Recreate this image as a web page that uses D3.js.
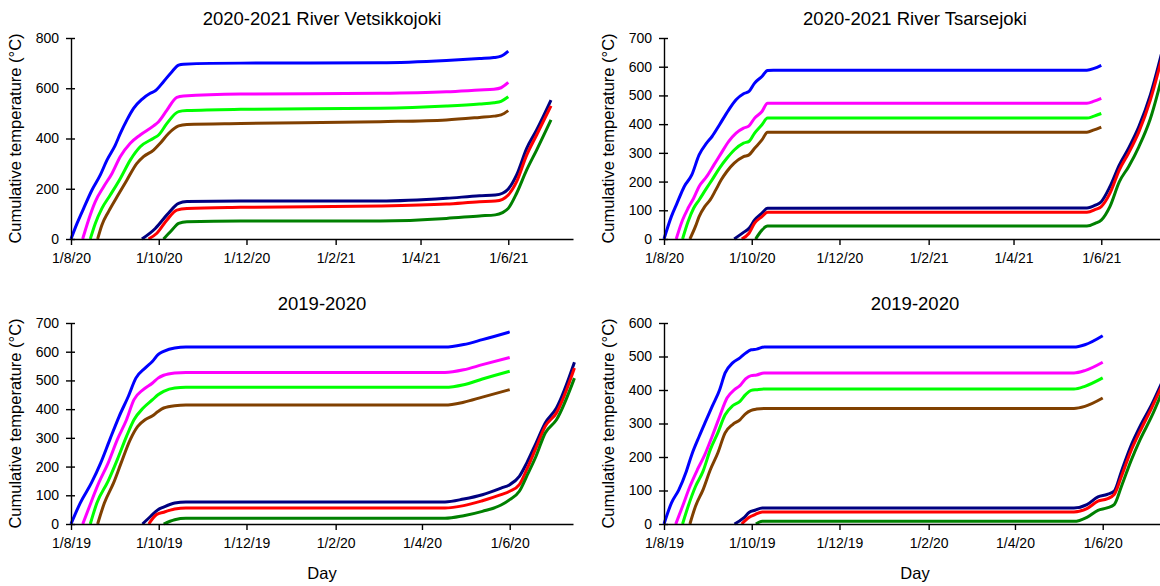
<!DOCTYPE html>
<html>
<head>
<meta charset="utf-8">
<script src="https://cdn.jsdelivr.net/npm/d3@7"></script>
<style>
  body { margin: 0; background: #fff; }
  svg { display: block; font-family: "Liberation Sans", Arial, sans-serif; }
  .axis path, .axis line { stroke: #000; stroke-width: 1.4; }
  .axis text { font-size: 14px; fill: #000; font-family: "Liberation Sans", Arial, sans-serif; }
  .line { fill: none; stroke-width: 3; stroke-linejoin: round; }
</style>
</head>
<body>
<div id="chart"></div>
<script>
// [day since 1 August, cumulative temperature]
var v21Blue = [[0,0],[4.2,62],[8.8,122],[14.6,195],[20.4,255],[25,314],[30.8,374],[34.3,420],[38.9,474],[43.5,520],[49.3,556],[55.1,580],[58.6,590],[64.3,626],[70.2,666],[74.8,692],[78.2,696],[118,700],[215,701],[261,710],[284,718],[294,722],[299,728],[304,748]];
var v21Magenta = [[8.1,0],[12.2,76],[16.9,149],[22.7,208],[28.5,261],[34.3,328],[41.2,381],[48.1,414],[57.4,450],[60.9,467],[66.7,513],[73.6,564],[78.2,569],[118,577],[215,580],[261,586],[284,593],[294,596],[299,602],[304,623]];
var v21Green = [[13.4,0],[16.9,62],[21.5,122],[27.3,175],[34.3,241],[41.2,314],[48.1,367],[57.4,401],[60.9,414],[66.7,460],[74.8,507],[80.6,511],[118,516],[215,520],[261,529],[284,537],[294,542],[299,548],[304,566]];
var v21Brown = [[18.5,0],[21.5,56],[26.1,109],[32,168],[38.9,235],[45.8,301],[50.4,328],[57.4,354],[62,381],[67.8,420],[74.8,450],[80.6,456],[118,460],[215,467],[261,474],[284,484],[294,489],[299,494],[304,511]];
var v21Navy = [[49.3,0],[58.6,42],[66.7,96],[74.8,142],[80.6,149],[118,151],[215,151],[261,162],[284,172],[295,175],[300,182],[304,199],[309.8,255],[316.8,361],[323.7,434],[333.7,553]];
var v21Red = [[53.9,0],[59.7,23],[66.7,76],[73.6,115],[80.6,121],[118,126],[215,131],[261,139],[284,148],[295,151],[300,158],[304,175],[309.8,228],[316.8,334],[323.7,414],[333.7,530]];
var v21DkGreen = [[64.3,0],[70.2,36],[74.8,62],[80.6,69],[118,72],[215,72],[261,82],[284,92],[295,96],[300,105],[304,122],[309.8,182],[316.8,275],[323.7,354],[333.7,474]];

var t21Blue = [[0,0],[5.1,78],[9,124],[14.1,183],[19.3,223],[24.4,293],[29.6,334],[33.4,357],[38.6,398],[45,450],[50.1,485],[55.3,506],[59.1,514],[63,543],[68.1,566],[72,587],[76,588],[294,588],[299,594],[304,605]];
var t21Magenta = [[8.5,0],[12.9,66],[16.7,107],[20.6,142],[24.4,183],[29.6,217],[34.7,258],[39.8,299],[45,340],[50.1,369],[55.3,386],[59.1,394],[63,421],[68.1,444],[72,473],[294,473],[299,480],[304,490]];
var t21Green = [[12.9,0],[16.7,60],[20.6,107],[24.4,136],[29.6,177],[33.4,206],[38.6,247],[43.7,281],[48.8,310],[55.3,334],[59.1,340],[63,369],[68.1,398],[72,421],[294,421],[299,428],[304,437]];
var t21Brown = [[18,0],[21.8,43],[24.4,78],[28.3,113],[32.1,136],[36,171],[39.8,206],[43.7,235],[48.8,264],[55.3,287],[59.1,293],[63,316],[68.1,345],[72,372],[294,372],[299,380],[304,390]];
var t21Navy = [[48.8,0],[55.3,23],[59.1,37],[63,66],[68.1,90],[72,107],[294,108],[300,118],[304,130],[310,182],[316.6,258],[323,316],[330.2,392],[338,500],[346,648]];
var t21Red = [[54,0],[59.1,20],[63,55],[68.1,78],[72,93],[294,93],[300,103],[304,113],[310,159],[316.6,241],[323,299],[330.2,374],[338,482],[346,628]];
var t21DkGreen = [[63.7,0],[68.1,31],[72,45],[294,45],[300,55],[304,66],[310,113],[316.6,200],[323,252],[330.2,322],[338,417],[346,560]];

var v20Blue = [[0,0],[6.4,73],[14.2,143],[20.6,212],[27,294],[33.5,375],[39.9,445],[45.1,508],[51.5,543],[56.7,567],[60.5,590],[64.4,601],[72.1,613],[79.9,616],[260,616],[273,625],[286,642],[305,669]];
var v20Magenta = [[8.2,0],[12.9,62],[19.3,143],[25.8,212],[32.2,294],[38.6,363],[43.8,433],[50.2,468],[56.7,491],[60.5,508],[64.4,518],[72.1,526],[79.9,528],[260,528],[273,537],[286,555],[305,580]];
var v20Green = [[13.4,0],[18,73],[25.8,149],[32.2,224],[38.6,305],[43.8,363],[50.2,404],[56.7,433],[60.5,450],[64.4,462],[72.1,474],[79.9,476],[260,476],[273,485],[286,505],[305,532]];
var v20Brown = [[18.5,0],[23.2,73],[29.6,143],[34.8,212],[41.2,294],[46.4,340],[51.5,363],[56.7,377],[60.5,392],[64.4,404],[72.1,412],[79.9,414],[260,414],[273,424],[286,442],[305,468]];
var v20Navy = [[49.7,0],[55.4,27],[60.5,50],[64.4,59],[72.1,73],[79.9,77],[260,77],[273,87],[286,102],[299,125],[305,137],[311.7,166],[316.8,212],[323.3,282],[329.7,352],[337.5,404],[350,563]];
var v20Red = [[54.1,0],[59.3,32],[64.4,41],[72.1,52],[79.9,56],[260,56],[273,64],[286,81],[299,102],[305,114],[311.7,137],[316.8,189],[323.3,265],[329.7,340],[337.5,387],[350,543]];
var v20DkGreen = [[64.4,0],[72.1,15],[79.9,20],[260,20],[273,29],[286,44],[299,66],[305,85],[311.7,114],[316.8,166],[323.3,236],[329.7,317],[337.5,363],[350,508]];

var t20Blue = [[0,0],[5.2,63],[10.3,102],[15.5,157],[19.3,207],[24.5,262],[28.4,301],[33.5,351],[38.7,401],[42.5,451],[47.7,481],[52.8,496],[56.7,510],[60.6,520],[64.4,522],[69.6,528],[285,528],[292.6,535],[305,562]];
var t20Magenta = [[8.2,0],[12.9,53],[18,112],[23.2,162],[28.4,207],[33.5,262],[38.7,321],[43.8,376],[49,401],[52.8,413],[56.7,433],[60.6,443],[64.4,445],[69.6,451],[285,451],[292.6,458],[305,483]];
var t20Green = [[12.9,0],[16.8,53],[21.9,112],[27.1,157],[32.2,222],[37.4,272],[42.5,326],[47.7,353],[52.8,366],[56.7,386],[60.6,399],[64.4,401],[69.6,403],[285,403],[292.6,411],[305,436]];
var t20Brown = [[18,0],[21.9,53],[27.1,102],[32.2,162],[37.4,212],[42.5,272],[47.7,297],[52.8,311],[56.7,329],[60.6,339],[64.4,343],[69.6,345],[285,345],[292.6,351],[305,376]];
var t20Navy = [[49,0],[55.4,18],[59.3,35],[63.2,41],[68.3,48],[285,48],[294,58],[301.7,81],[308,88],[313,98],[318,157],[324.5,232],[331,292],[339,356],[346,421]];
var t20Red = [[54,0],[59.3,20],[63.2,28],[68.3,36],[285,36],[294,46],[301.7,68],[308,75],[313,88],[318,142],[324.5,217],[331,277],[339,346],[346,411]];
var t20DkGreen = [[63.9,0],[68.3,8],[285,8],[294,20],[301.7,41],[308,48],[313,58],[318,112],[324.5,187],[331,252],[339,321],[346,391]];

var seriesColors = ['#0000ff', '#ff00ff', '#00ff00', '#804000', '#000080', '#ff0000', '#008000'];

var panelTitles = ['2020-2021 River Vetsikkojoki', '2020-2021 River Tsarsejoki', '2019-2020', '2019-2020'];
var tickDates2021 = ['2020-08-01', '2020-10-01', '2020-12-01', '2021-02-01', '2021-04-01', '2021-06-01'];
var tickLabels2021 = ['1/8/20', '1/10/20', '1/12/20', '1/2/21', '1/4/21', '1/6/21'];
var tickDates1920 = ['2019-08-01', '2019-10-01', '2019-12-01', '2020-02-01', '2020-04-01', '2020-06-01'];
var tickLabels1920 = ['1/8/19', '1/10/19', '1/12/19', '1/2/20', '1/4/20', '1/6/20'];
var yTicks800 = [0, 200, 400, 600, 800];
var yTicks700 = [0, 100, 200, 300, 400, 500, 600, 700];
var yTicks600 = [0, 100, 200, 300, 400, 500, 600];

var yLabel = 'Cumulative temperature (°C)';
var xLabel = 'Day';

var parseDate = d3.timeParse('%Y-%m-%d');
var AXIS_DAYS = 349;
var W = 502, H = 201;

var panels = [
  {title: panelTitles[0], start: tickDates2021[0], tickDates: tickDates2021, tickLabels: tickLabels2021,
   yTicks: yTicks800, series: [v21Blue, v21Magenta, v21Green, v21Brown, v21Navy, v21Red, v21DkGreen],
   left: 71, top: 38, showX: false},
  {title: panelTitles[1], start: tickDates2021[0], tickDates: tickDates2021, tickLabels: tickLabels2021,
   yTicks: yTicks700, series: [t21Blue, t21Magenta, t21Green, t21Brown, t21Navy, t21Red, t21DkGreen],
   left: 664, top: 38, showX: false},
  {title: panelTitles[2], start: tickDates1920[0], tickDates: tickDates1920, tickLabels: tickLabels1920,
   yTicks: yTicks700, series: [v20Blue, v20Magenta, v20Green, v20Brown, v20Navy, v20Red, v20DkGreen],
   left: 71, top: 323, showX: true},
  {title: panelTitles[3], start: tickDates1920[0], tickDates: tickDates1920, tickLabels: tickLabels1920,
   yTicks: yTicks600, series: [t20Blue, t20Magenta, t20Green, t20Brown, t20Navy, t20Red, t20DkGreen],
   left: 664, top: 323, showX: true}
];

var svg = d3.select('#chart').append('svg')
  .attr('width', 1160)
  .attr('height', 586);

function drawPanel(p) {
  var start = parseDate(p.start);
  var x = d3.scaleTime()
    .domain([start, d3.timeDay.offset(start, AXIS_DAYS)])
    .range([0, W]);
  var y = d3.scaleLinear()
    .domain([0, d3.max(p.yTicks)])
    .range([H, 0]);

  var g = svg.append('g')
    .attr('transform', 'translate(' + p.left + ',' + p.top + ')');

  var tickValues = p.tickDates.map(parseDate);

  var xAxis = d3.axisBottom(x)
    .tickValues(tickValues)
    .tickSizeInner(6)
    .tickSizeOuter(0)
    .tickPadding(8)
    .tickFormat(function(d, i) { return p.tickLabels[i]; });

  var yAxis = d3.axisLeft(y)
    .tickValues(p.yTicks)
    .tickSizeInner(5)
    .tickSizeOuter(0)
    .tickPadding(7);

  var line = d3.line()
    .x(function(d) { return x(new Date(start.getTime() + d[0] * 864e5)); })
    .y(function(d) { return y(d[1]); })
    .curve(d3.curveMonotoneX);

  p.series.forEach(function(s, i) {
    g.append('path')
      .attr('class', 'line')
      .style('stroke', seriesColors[i])
      .attr('d', line(s));
  });

  var gx = g.append('g')
    .attr('class', 'x axis')
    .attr('transform', 'translate(0,' + H + ')')
    .call(xAxis);
  gx.selectAll('text').attr('y', 14.5);

  var gy = g.append('g')
    .attr('class', 'y axis')
    .call(yAxis);
  // Excel-style cross ticks on the value axis.
  gy.selectAll('.tick line').attr('x1', 4);

  g.append('text')
    .attr('x', W / 2)
    .attr('y', -13)
    .attr('text-anchor', 'middle')
    .style('font-size', '18.5px')
    .text(p.title);

  g.append('text')
    .attr('transform', 'translate(-50,' + (H / 2) + ') rotate(-90)')
    .attr('text-anchor', 'middle')
    .style('font-size', '16.5px')
    .text(yLabel);

  if (p.showX) {
    g.append('text')
      .attr('x', W / 2)
      .attr('y', H + 54.5)
      .attr('text-anchor', 'middle')
      .style('font-size', '16.5px')
      .text(xLabel);
  }
}

panels.forEach(drawPanel);
</script>
</body>
</html>
